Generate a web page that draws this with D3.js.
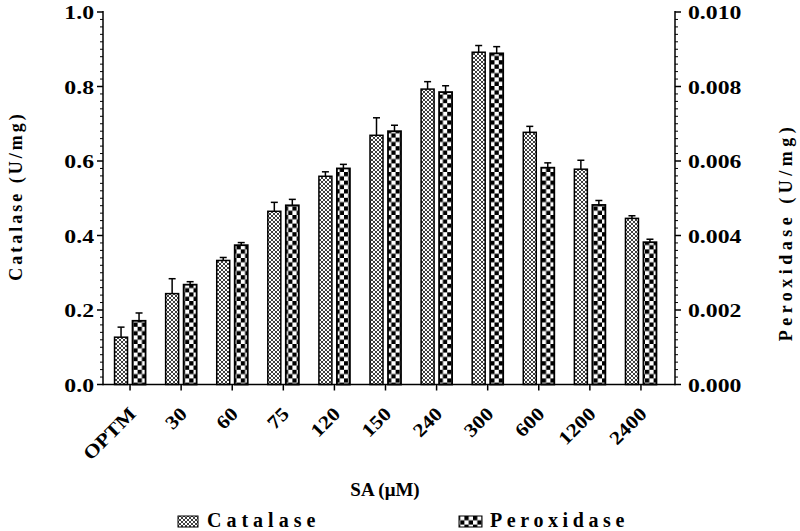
<!DOCTYPE html>
<html><head><meta charset="utf-8">
<script src="https://cdn.jsdelivr.net/npm/d3@7"></script>
<style>body{margin:0;background:#fff}svg{display:block}text{font-family:"Liberation Serif","Times New Roman",serif;font-weight:bold;fill:#000}</style>
</head><body><svg id="c" width="800" height="531"></svg>
<script>
const categories = ["OPTM","30","60","75","120","150","240","300","600","1200","2400"];
const catalase = [0.127,0.244,0.333,0.465,0.559,0.669,0.793,0.892,0.677,0.578,0.446];
const catalaseErr = [0.027,0.040,0.008,0.024,0.012,0.047,0.020,0.018,0.016,0.024,0.007];
const peroxidase = [0.00171,0.00268,0.00374,0.00481,0.00580,0.00680,0.00785,0.00889,0.00582,0.00482,0.00382];
const peroxidaseErr = [0.00021,0.00008,0.00007,0.00016,0.00011,0.00016,0.00017,0.00018,0.00013,0.00012,0.00008];
const leftTicks = [0,0.2,0.4,0.6,0.8,1.0];
const rightTicks = [0,0.002,0.004,0.006,0.008,0.010];

const svg = d3.select("#c");
const L = 103, R = 675, T = 12, B = 384.5;
const x = d3.scaleBand().domain(categories).range([104.5, 666.5]);
const yL = d3.scaleLinear().domain([0,1]).range([B,T]);
const yR = d3.scaleLinear().domain([0,0.010]).range([B,T]);

const defs = svg.append("defs");
const pc = defs.append("pattern").attr("id","pcat").attr("patternUnits","userSpaceOnUse").attr("width",4).attr("height",4);
pc.append("rect").attr("width",4).attr("height",4).attr("fill","#fff");
[[0,0],[4,0],[0,4],[4,4],[2,2]].forEach(p=>pc.append("circle").attr("cx",p[0]).attr("cy",p[1]).attr("r",1.0).attr("fill","#000"));
const pp = defs.append("pattern").attr("id","pper").attr("patternUnits","userSpaceOnUse").attr("width",8.6).attr("height",8.6);
pp.append("rect").attr("width",8.6).attr("height",8.6).attr("fill","#fff");
pp.append("rect").attr("width",4.3).attr("height",4.3).attr("fill","#000");
pp.append("rect").attr("x",4.3).attr("y",4.3).attr("width",4.3).attr("height",4.3).attr("fill","#000");

const bw = 13, off = 2.5;
const g = svg.append("g");
categories.forEach((c,i)=>{
  const cx = x(c) + x.bandwidth()/2;
  let x0 = cx - off - bw;
  g.append("line").attr("x1",x0+bw/2).attr("x2",x0+bw/2).attr("y1",yL(catalase[i])).attr("y2",yL(catalase[i]+catalaseErr[i])).attr("stroke","#000").attr("stroke-width",1.5);
  g.append("line").attr("x1",x0+bw/2-3.5).attr("x2",x0+bw/2+3.5).attr("y1",yL(catalase[i]+catalaseErr[i])).attr("y2",yL(catalase[i]+catalaseErr[i])).attr("stroke","#000").attr("stroke-width",1.5);
  g.append("rect").attr("x",x0).attr("y",yL(catalase[i])).attr("width",bw).attr("height",B-yL(catalase[i])).attr("fill","url(#pcat)").attr("stroke","#000").attr("stroke-width",1.5);
  let x1 = cx + off;
  g.append("line").attr("x1",x1+bw/2).attr("x2",x1+bw/2).attr("y1",yR(peroxidase[i])).attr("y2",yR(peroxidase[i]+peroxidaseErr[i])).attr("stroke","#000").attr("stroke-width",1.5);
  g.append("line").attr("x1",x1+bw/2-3.5).attr("x2",x1+bw/2+3.5).attr("y1",yR(peroxidase[i]+peroxidaseErr[i])).attr("y2",yR(peroxidase[i]+peroxidaseErr[i])).attr("stroke","#000").attr("stroke-width",1.5);
  g.append("rect").attr("x",x1).attr("y",yR(peroxidase[i])).attr("width",bw).attr("height",B-yR(peroxidase[i])).attr("fill","url(#pper)").attr("stroke","#000").attr("stroke-width",1.8);
});

const ax = svg.append("g").attr("stroke","#000").attr("stroke-width",1.5);
ax.append("line").attr("x1",L).attr("x2",L).attr("y1",T-1).attr("y2",B+0.75);
ax.append("line").attr("x1",R).attr("x2",R).attr("y1",T-1).attr("y2",B+0.75);
ax.append("line").attr("x1",L).attr("x2",R).attr("y1",B).attr("y2",B);
const minor = d3.range(0,51).map(k=>k*0.02);
minor.forEach(v=>{
  const major = leftTicks.some(t=>Math.abs(t-v)<1e-9);
  ax.append("line").attr("x1",L).attr("x2",L-(major?6:3)).attr("y1",yL(v)).attr("y2",yL(v)).attr("stroke-width",major?1.5:1);
  ax.append("line").attr("x1",R).attr("x2",R+(major?6:3)).attr("y1",yL(v)).attr("y2",yL(v)).attr("stroke-width",major?1.5:1);
});
categories.forEach(c=>{
  const cx = x(c)+x.bandwidth()/2;
  ax.append("line").attr("x1",cx).attr("x2",cx).attr("y1",B).attr("y2",B+6);
});

leftTicks.forEach(v=>{
  svg.append("text").attr("transform",`translate(94,${yL(v)+7}) scale(1.25,1)`).attr("text-anchor","end").attr("font-size",19).text(d3.format(".1f")(v));
});
rightTicks.forEach(v=>{
  svg.append("text").attr("transform",`translate(688,${yR(v)+7}) scale(1.25,1)`).attr("text-anchor","start").attr("font-size",19).text(d3.format(".3f")(v));
});
categories.forEach(c=>{
  const cx = x(c)+x.bandwidth()/2;
  svg.append("text").attr("transform",`translate(${cx+7},415) rotate(-45) scale(1.15,1)`).attr("text-anchor","end").attr("font-size",19).text(c);
});

svg.append("text").attr("transform","translate(22,196) rotate(-90)").attr("text-anchor","middle").attr("font-size",18).attr("letter-spacing",3).text("Catalase (U/mg)");
svg.append("text").attr("transform","translate(792,232) rotate(-90)").attr("text-anchor","middle").attr("font-size",18).attr("letter-spacing",4.5).text("Peroxidase (U/mg)");
svg.append("text").attr("x",385).attr("y",496).attr("text-anchor","middle").attr("font-size",19).text("SA (μM)");

svg.append("rect").attr("x",178).attr("y",516).attr("width",20).attr("height",11).attr("fill","url(#pcat)").attr("stroke","#000").attr("stroke-width",1);
svg.append("text").attr("x",207).attr("y",527).attr("font-size",20).attr("letter-spacing",5).text("Catalase");
svg.append("rect").attr("x",459).attr("y",516).attr("width",23).attr("height",11).attr("fill","url(#pper)").attr("stroke","#000").attr("stroke-width",1);
svg.append("text").attr("x",490).attr("y",527).attr("font-size",20).attr("letter-spacing",4.6).text("Peroxidase");
</script></body></html>
